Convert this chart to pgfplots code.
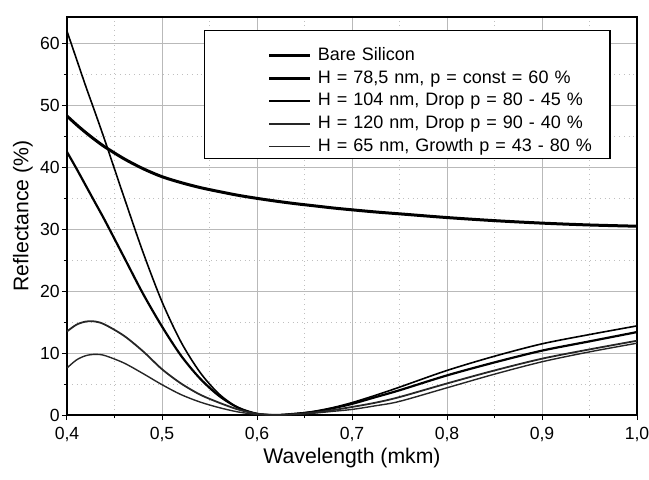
\documentclass[border=0pt]{standalone}
\usepackage{fontspec}
\setmainfont{Liberation Sans}
\usepackage{pgfplots}
\pgfplotsset{compat=1.18}

% reflectance curves
\pgfplotstableread{
x     bare   A     B     C     D
0.40  48.3   62.0  42.5  13.5  7.6
0.41  46.9   57.5  39.8  14.6  8.9
0.42  45.6   53.0  37.0  15.1  9.6
0.43  44.4   48.7  34.2  15.1  9.8
0.44  43.3   44.3  31.4  14.6  9.6
0.46  41.4   35.2  25.5  12.8  8.4
0.48  39.8   26.3  19.6  10.3  6.7
0.50  38.5   18.3  14.3  7.4   4.9
0.52  37.55  11.8  9.6   5.1   3.3
0.54  36.75  6.9   5.9   3.3   2.1
0.56  36.1   3.4   3.1   2.0   1.2
0.58  35.5   1.2   1.2   0.9   0.5
0.60  35.0   0.2   0.2   0.2   0.1
0.62  34.55  0.0   0.0   0.0   0.0
0.64  34.15  0.2   0.2   0.15  0.1
0.66  33.8   0.6   0.5   0.4   0.3
0.68  33.45  1.2   1.1   0.8   0.6
0.70  33.15  2.0   1.8   1.3   0.9
0.725 32.8   3.2   2.9   2.0   1.5
0.75  32.5   4.5   4.0   2.9   2.2
0.80  31.9   7.2   6.4   5.1   4.4
0.85  31.4   9.5   8.5   7.2   6.6
0.90  31.0   11.5  10.4  9.1   8.6
0.95  30.7   13.0  11.9  10.6  10.2
1.00  30.5   14.4  13.4  12.0  11.6
}\refl

\begin{document}
\begin{tikzpicture}
\begin{axis}[
  name=ax,
  scale only axis,
  width=285pt, height=199pt,
  xmin=0.4, xmax=1.0, ymin=0, ymax=64.3,
  xtick={0.4,0.5,...,1.0},
  ytick={0,10,...,60},
  minor x tick num=1, minor y tick num=1,
  xtick pos=bottom, ytick pos=left,
  tick align=outside,
  major tick length=2.5pt, minor tick length=1.5pt,
  tick style={black, line width=0.5pt},
  axis line style={line width=1pt},
  grid=both,
  major grid style={gray!55, line width=0.4pt},
  minor grid style={gray!50, dotted, line width=0.4pt},
  tick label style={font=\fontsize{8.8}{10}\selectfont},
  /pgf/number format/assume math mode=true,
  xticklabel style={/pgf/number format/.cd, fixed, fixed zerofill, precision=1, use comma},
  yticklabel style={inner xsep=1pt},
  xlabel={Wavelength (mkm)},
  ylabel={Reflectance (\%)},
  label style={font=\fontsize{10.6}{12}\selectfont},
  xlabel style={at={(axis description cs:0.5,0)}, anchor=center, yshift=-21.5pt},
  ylabel style={at={(axis description cs:0,0.5)}, anchor=center, yshift=22pt},
  legend cell align=left,
  legend style={
    at={(0.24,0.967)}, anchor=north west,
    draw=black, line width=0.6pt,
    inner xsep=0pt, inner ysep=1.8pt,
    column sep=3pt, row sep=2.95pt,
    font=\fontsize{9}{10}\selectfont,
    nodes={inner sep=0pt, text height=6.5pt, text depth=1.9pt, text width=146pt},
  },
  legend image code/.code={
    \path[draw=none, fill=none] (-32.5pt,0pt) -- (0pt,0pt);
    \draw[#1] (0pt,0pt) -- (20.5pt,0pt);
  },
]
\addplot[black, line width=1.5pt, smooth,
  legend image code/.code={
    \path[draw=none, fill=none] (-32.5pt,0pt) -- (0pt,10.7pt);
    \draw[##1] (0pt,0pt) -- (20.5pt,0pt);
  }] table[x=x, y=bare] {\refl};
\addlegendentry{Bare Silicon}
\addplot[black, line width=1.1pt, smooth] table[x=x, y=B] {\refl};
\addlegendentry{H = 78,5 nm, p = const = 60 \%}
\addplot[black, line width=0.8pt, smooth] table[x=x, y=A] {\refl};
\addlegendentry{H = 104 nm, Drop p = 80 - 45 \%}
\addplot[black!85, line width=0.9pt, smooth] table[x=x, y=C] {\refl};
\addlegendentry{H = 120 nm, Drop p = 90 - 40 \%}
\addplot[black!85, line width=0.7pt, smooth] table[x=x, y=D] {\refl};
\addlegendentry{H = 65 nm, Growth p = 43 - 80 \%}
\end{axis}
\pgfresetboundingbox
\path (ax.south west) ++(-33.5pt,-32pt) rectangle ([shift={(6pt,8.5pt)}]ax.north east);
\end{tikzpicture}
\end{document}
